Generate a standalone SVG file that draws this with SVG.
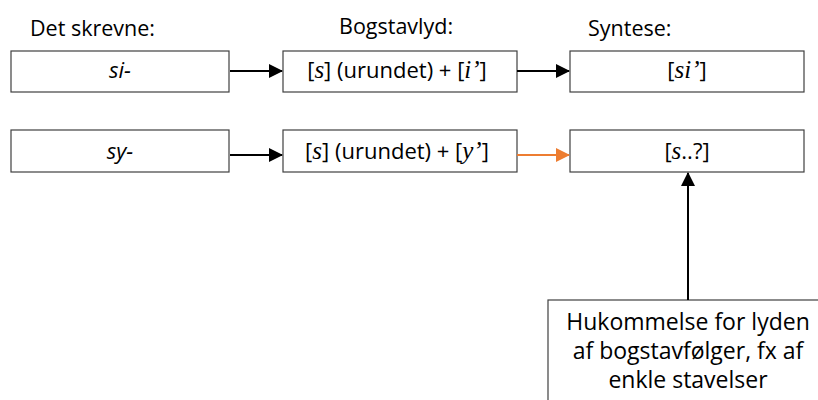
<svg xmlns="http://www.w3.org/2000/svg" width="818" height="400" viewBox="0 0 818 400">
<style>
.box{fill:#fff;stroke:#404040;stroke-width:1.2}
.t{font-family:"Open Sans","Liberation Sans",sans-serif;font-size:22px;fill:#000}
.h{font-size:21.5px}
.b{font-size:23px}
.s{font-family:"Liberation Serif","DejaVu Serif",serif;font-style:italic;font-size:25px}
.i{font-style:italic}
.c{stroke:#000;stroke-width:2;fill:none}
</style>
<defs>
<marker id="ab" markerWidth="14" markerHeight="14" refX="13" refY="7" orient="auto" markerUnits="userSpaceOnUse"><path d="M0,0 L14,7 L0,14 Z" fill="#000"/></marker>
<marker id="ao" markerWidth="14" markerHeight="14" refX="13" refY="7" orient="auto" markerUnits="userSpaceOnUse"><path d="M0,0 L14,7 L0,14 Z" fill="#ed7d31"/></marker>
</defs>
<text class="t h" x="30" y="36">Det skrevne:</text>
<text class="t h" x="339" y="34">Bogstavlyd:</text>
<text class="t h" x="588" y="36">Syntese:</text>
<g id="n1"><rect class="box" x="11" y="51" width="218" height="41"/><text class="t" x="120" y="78" text-anchor="middle"><tspan class="i">si-</tspan></text></g>
<g id="n2"><rect class="box" x="283" y="51" width="234" height="41"/><text class="t" x="397" y="78" text-anchor="middle">[<tspan class="s">s</tspan>] (urundet) + [<tspan class="s">i’</tspan>]</text></g>
<g id="n3"><rect class="box" x="570" y="51" width="234" height="41"/><text class="t" x="687" y="78" text-anchor="middle">[<tspan class="s">si’</tspan>]</text></g>
<g id="n4"><rect class="box" x="11" y="130" width="218" height="42"/><text class="t" x="120" y="159" text-anchor="middle"><tspan class="i">sy-</tspan></text></g>
<g id="n5"><rect class="box" x="283" y="130" width="234" height="42"/><text class="t" x="397" y="159" text-anchor="middle">[<tspan class="s">s</tspan>] (urundet) + [<tspan class="s">y’</tspan>]</text></g>
<g id="n6"><rect class="box" x="570" y="130" width="234" height="42"/><text class="t" x="687" y="159" text-anchor="middle">[<tspan class="s">s</tspan>..?]</text></g>
<g id="n7"><rect class="box" x="548" y="300" width="290" height="120"/>
<text class="t b" x="688" y="330" text-anchor="middle">Hukommelse for lyden</text>
<text class="t b" x="688" y="359" text-anchor="middle">af bogstavfølger, fx af</text>
<text class="t b" x="688" y="388" text-anchor="middle">enkle stavelser</text></g>
<g id="connectors">
<line class="c" x1="230" y1="71" x2="282" y2="71" marker-end="url(#ab)"/>
<line class="c" x1="517" y1="71" x2="569" y2="71" marker-end="url(#ab)"/>
<line class="c" x1="230" y1="155" x2="282" y2="155" marker-end="url(#ab)"/>
<line class="c" x1="517" y1="155" x2="569" y2="155" style="stroke:#ed7d31" marker-end="url(#ao)"/>
<line class="c" x1="688" y1="300" x2="688" y2="173" marker-end="url(#ab)"/>
</g>
</svg>
